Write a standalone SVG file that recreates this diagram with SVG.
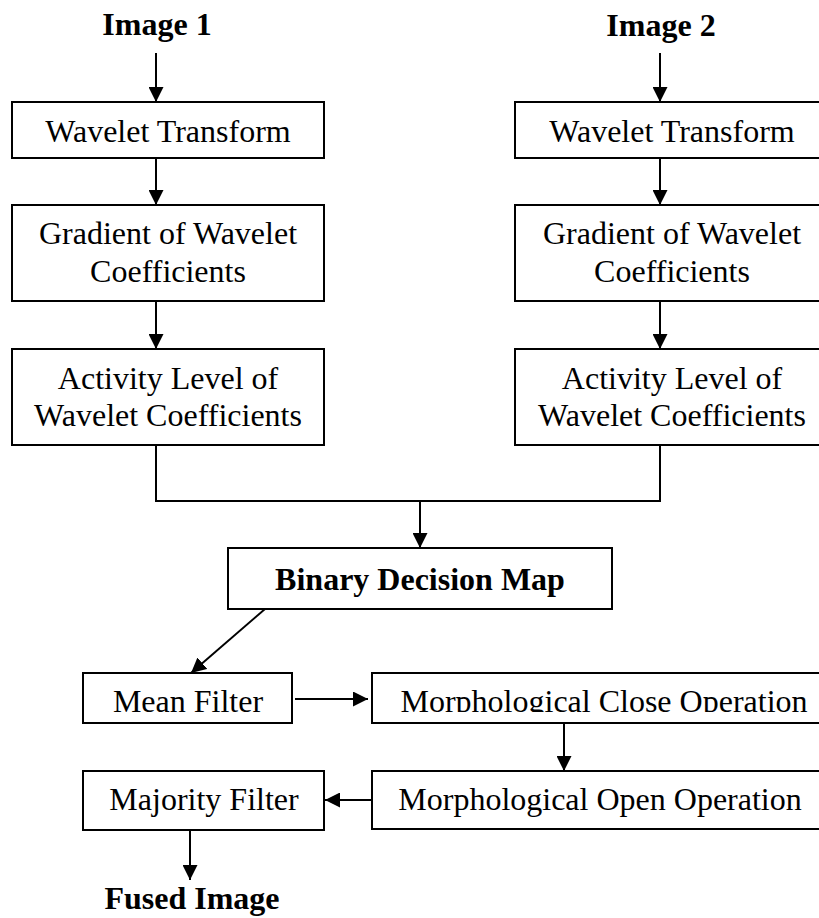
<svg xmlns="http://www.w3.org/2000/svg" width="819" height="918" viewBox="0 0 819 918">
<defs>
<style>
.box{fill:#fff;stroke:#000;stroke-width:2}
.t{font-family:"Liberation Serif","Times New Roman",serif;font-size:32px;fill:#000;text-anchor:middle}
.b{font-weight:bold}
.c{fill:none;stroke:#000;stroke-width:2}
</style>
<marker id="ah" viewBox="0 0 15 15" refX="15" refY="7.5" markerWidth="15" markerHeight="15" markerUnits="userSpaceOnUse" orient="auto">
<path d="M0,0 L15,7.5 L0,15 z" fill="#000"/>
</marker>
<clipPath id="clipClose"><rect x="372" y="673" width="460" height="39"/></clipPath>
</defs>
<rect width="819" height="918" fill="#fff"/>
<g id="connectors">
<line class="c" x1="156" y1="53" x2="156" y2="102" marker-end="url(#ah)"/>
<line class="c" x1="156" y1="158" x2="156" y2="205" marker-end="url(#ah)"/>
<line class="c" x1="156" y1="301" x2="156" y2="349" marker-end="url(#ah)"/>
<line class="c" x1="660" y1="53" x2="660" y2="102" marker-end="url(#ah)"/>
<line class="c" x1="660" y1="158" x2="660" y2="205" marker-end="url(#ah)"/>
<line class="c" x1="660" y1="301" x2="660" y2="349" marker-end="url(#ah)"/>
<polyline class="c" points="156,445 156,501 660,501 660,445"/>
<line class="c" x1="420" y1="501" x2="420" y2="548" marker-end="url(#ah)"/>
<line class="c" x1="265" y1="609" x2="191" y2="673" marker-end="url(#ah)"/>
<line class="c" x1="295" y1="699" x2="368" y2="699" marker-end="url(#ah)"/>
<line class="c" x1="564" y1="723" x2="564" y2="771" marker-end="url(#ah)"/>
<line class="c" x1="372" y1="800" x2="325" y2="800" marker-end="url(#ah)"/>
<line class="c" x1="190" y1="830" x2="190" y2="880" marker-end="url(#ah)"/>
</g>
<g id="image1"><text class="t b" x="157" y="35">Image 1</text></g>
<g id="image2"><text class="t b" x="661" y="36">Image 2</text></g>
<g id="wt1"><rect class="box" x="12" y="102" width="312" height="56"/><text class="t" x="168" y="142">Wavelet Transform</text></g>
<g id="wt2"><rect class="box" x="515" y="102" width="312" height="56"/><text class="t" x="672" y="142">Wavelet Transform</text></g>
<g id="grad1"><rect class="box" x="12" y="205" width="312" height="96"/><text class="t" x="168" y="244">Gradient of Wavelet</text><text class="t" x="168" y="282">Coefficients</text></g>
<g id="grad2"><rect class="box" x="515" y="205" width="312" height="96"/><text class="t" x="672" y="244">Gradient of Wavelet</text><text class="t" x="672" y="282">Coefficients</text></g>
<g id="act1"><rect class="box" x="12" y="349" width="312" height="96"/><text class="t" x="168" y="389">Activity Level of</text><text class="t" x="168" y="426">Wavelet Coefficients</text></g>
<g id="act2"><rect class="box" x="515" y="349" width="312" height="96"/><text class="t" x="672" y="389">Activity Level of</text><text class="t" x="672" y="426">Wavelet Coefficients</text></g>
<g id="bdm"><rect class="box" x="228" y="548" width="384" height="61"/><text class="t b" x="420" y="590">Binary Decision Map</text></g>
<g id="mean"><rect class="box" x="83" y="673" width="209" height="50"/><text class="t" x="188" y="712">Mean Filter</text></g>
<g id="close"><rect class="box" x="372" y="673" width="460" height="50"/><text class="t" x="604" y="712" clip-path="url(#clipClose)">Morphological Close Operation</text></g>
<g id="majority"><rect class="box" x="83" y="771" width="241" height="59"/><text class="t" x="204" y="810">Majority Filter</text></g>
<g id="open"><rect class="box" x="372" y="771" width="460" height="58"/><text class="t" x="600" y="810">Morphological Open Operation</text></g>
<g id="fused"><text class="t b" x="192" y="909">Fused Image</text></g>
</svg>
